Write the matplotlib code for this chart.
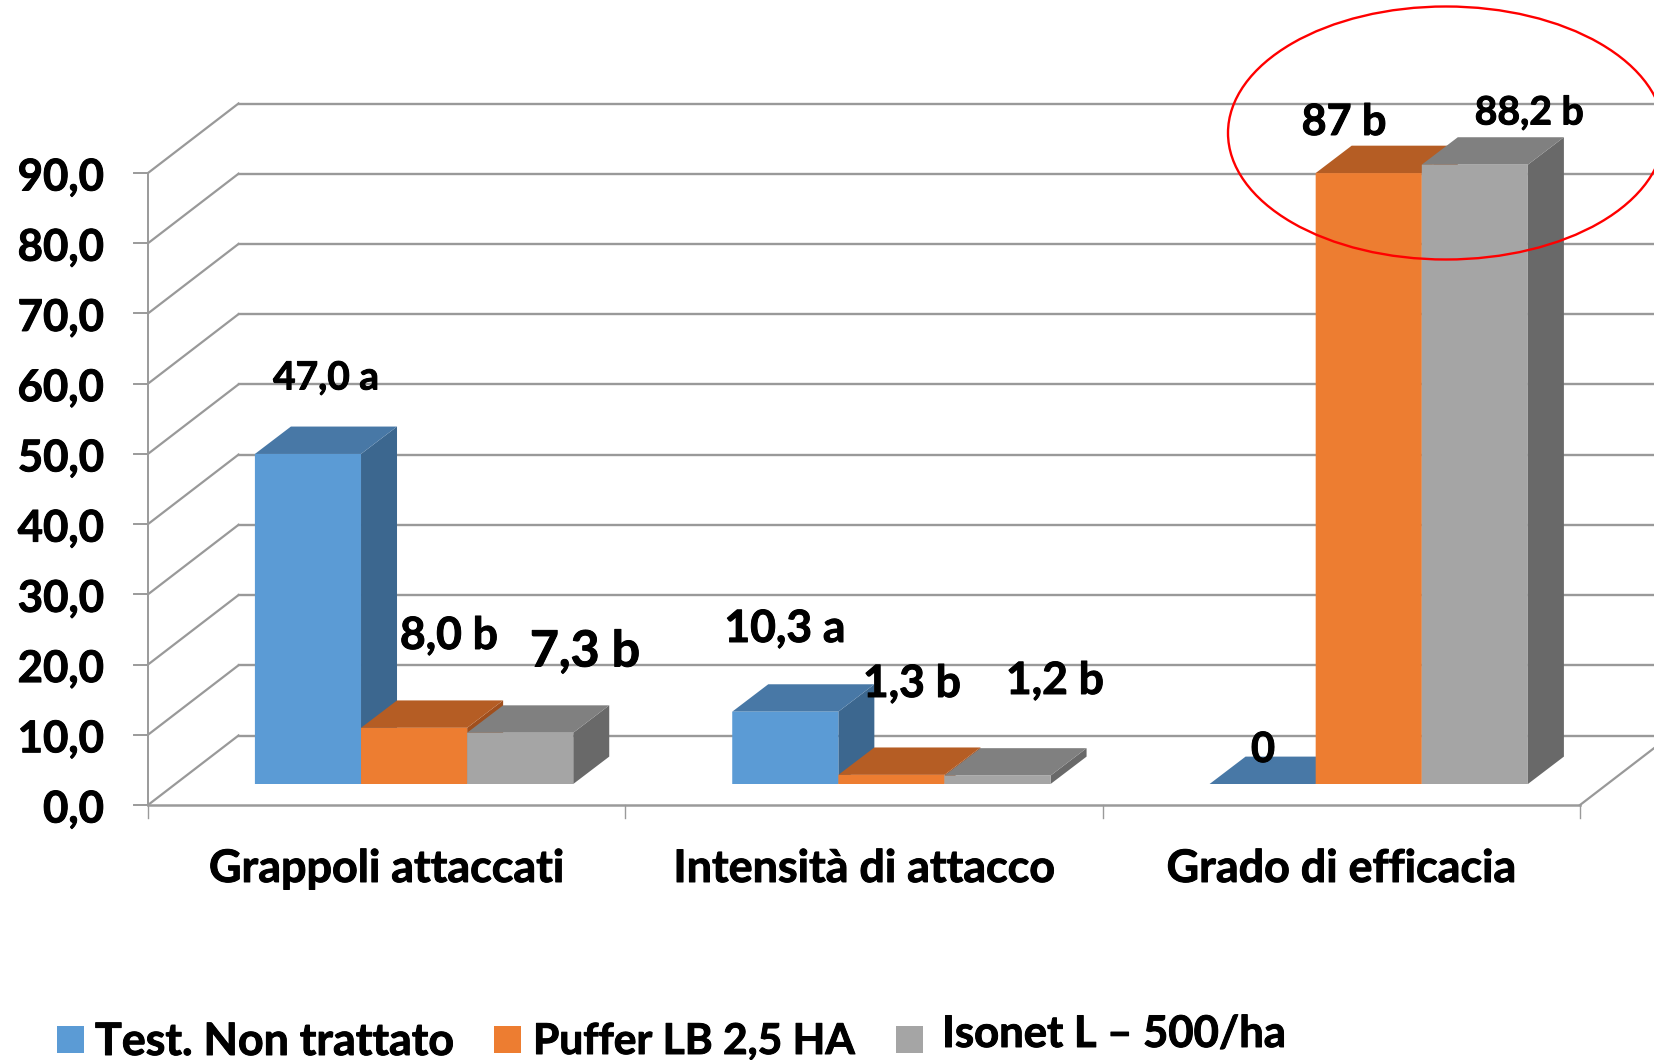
import matplotlib
matplotlib.use("Agg")
import matplotlib.pyplot as plt
import matplotlib.patheffects as pe
from matplotlib.patches import Polygon, Ellipse, Rectangle

plt.rcParams['font.family'] = ['Lato', 'DejaVu Sans']

categories = ["Grappoli attaccati", "Intensità di attacco", "Grado di efficacia"]
series_names = ["Test. Non trattato", "Puffer LB 2,5 HA", "Isonet L – 500/ha"]
test_values = [47.0, 10.3, 0.0]
puffer_values = [8.0, 1.3, 87.0]
isonet_values = [7.3, 1.2, 88.2]
y_ticks = [0, 10, 20, 30, 40, 50, 60, 70, 80, 90]
y_tick_labels = ["0,0", "10,0", "20,0", "30,0", "40,0", "50,0", "60,0", "70,0", "80,0", "90,0"]
test_labels = ["47,0 a", "10,3 a", "0"]
puffer_labels = ["8,0 b", "1,3 b", "87 b"]
isonet_labels = ["7,3 b", "1,2 b", "88,2 b"]

W, H = 1654, 1060
fig = plt.figure(figsize=(W / 100, H / 100), dpi=100, facecolor="white")
# front plane of the 3D box
L, R, T, B = 148, 1580, 173, 805
ax = fig.add_axes([L / W, 1 - B / H, (R - L) / W, (B - T) / H])
ax.set_xlim(0, 3)
ax.set_ylim(0, 90)
ax.axis("off")

px = 3 / (R - L)
py = 90 / (B - T)
depth_x, depth_y = 90.5 * px, 69.5 * py  # depth of whole box
bar_dx, bar_dy = 36 * px, 27.4 * py      # depth of a bar
off_x, off_y = 27 * px, 21 * py          # bar front plane offset
bar_w = 0.2223
gap = 0.1674

bold = [pe.withStroke(linewidth=0.7, foreground="black")]


def label(x, y, s, fs, **kw):
    ax.text(x, y, s, fontsize=fs, fontweight="bold", color="black", clip_on=False,
            path_effects=bold, **kw)


grid_c = "#999999"
axis_c = "#9a9a9a"
for v, lab in zip(y_ticks, y_tick_labels):
    ax.plot([0, depth_x], [v, v + depth_y], color=grid_c, lw=1.6, clip_on=False, zorder=1)
    ax.plot([depth_x, 3 + depth_x], [v + depth_y, v + depth_y], color=grid_c, lw=1.7, clip_on=False, zorder=1)
    ax.plot([-14 * px, 0], [v, v], color=axis_c, lw=1.4, clip_on=False, zorder=1)
    label(-44 * px, v - 4.5 * py, lab, 31.5, ha="right", va="center")
ax.plot([0, 0], [0, 90], color=axis_c, lw=1.4, clip_on=False, zorder=1)
ax.plot([0, 3], [0, 0], color=axis_c, lw=1.8, clip_on=False, zorder=1)
ax.plot([3, 3 + depth_x], [0, depth_y], color=grid_c, lw=1.6, clip_on=False, zorder=1)
for i in range(4):
    ax.plot([i, i], [0, -13 * py], color=axis_c, lw=1.0, clip_on=False, zorder=1)
for i, c in enumerate(categories):
    label(i + 0.5, -64 * py, c, 32.3, ha="center", va="center")

front = ["#5b9bd5", "#ed7d31", "#a5a5a5"]
top = ["#4878a6", "#b55d24", "#808080"]
side = ["#3c678f", "#a04f1d", "#696969"]
all_vals = [test_values, puffer_values, isonet_values]
for s, vals in enumerate(all_vals):
    for g, v in enumerate(vals):
        x0 = g + gap + s * bar_w + off_x
        x1 = x0 + bar_w
        y0 = off_y
        y1 = off_y + v
        if v > 0:
            ax.add_patch(Polygon([(x1, y0), (x1 + bar_dx, y0 + bar_dy), (x1 + bar_dx, y1 + bar_dy), (x1, y1)],
                                 fc=side[s], ec="none", zorder=3 + g * 3 + s * 0.1, clip_on=False, snap=False))
            ax.add_patch(Rectangle((x0, y0), bar_w, v, fc=front[s], ec="none",
                                   zorder=3.05 + g * 3 + s * 0.1, clip_on=False, snap=False))
        ax.add_patch(Polygon([(x0, y1), (x1, y1), (x1 + bar_dx, y1 + bar_dy), (x0 + bar_dx, y1 + bar_dy)],
                             fc=top[s], ec="none", zorder=3.02 + g * 3 + s * 0.1, clip_on=False, snap=False))

# value labels placed by hand, in figure pixels: centre x, centre y, font size
lab_texts = [test_labels, puffer_labels, isonet_labels]
label_px = {(0, 0): (326, 378, 28), (0, 1): (785, 629, 32), (0, 2): (1263, 750, 30),
            (1, 0): (449, 636, 32), (1, 1): (912, 684, 32), (1, 2): (1344, 122, 31),
            (2, 0): (585, 652, 36), (2, 1): (1055, 681, 32), (2, 2): (1529, 113, 28.2)}
for s in range(3):
    for g in range(3):
        xp, yp, fs = label_px[(s, g)]
        ax.text((xp - L) * px, (B - yp) * py, lab_texts[s][g], ha="center", va="center",
                fontsize=fs, fontweight="bold", color="black", zorder=20, clip_on=False,
                path_effects=bold)

# highlight ellipse, clipped by the figure edge
ax.add_patch(Ellipse(((1446 - L) * px, (B - 133) * py), 436 * px, 253 * py, fc="none", ec="#ff0000",
                     lw=1.7, zorder=25, clip_on=False))

# legend
leg_sq = [(57, 1026), (494, 1026), (896, 1026)]
leg_txt = [(95, 1042), (533, 1042), (942, 1034)]
leg_fs = [32.2, 30.6, 31.4]
for (x, y), (tx, ty), name, c, fs in zip(leg_sq, leg_txt, series_names, front, leg_fs):
    ax.add_patch(Rectangle(((x - L) * px, (B - y - 27) * py), 27 * px, 27 * py, fc=c, ec="none", clip_on=False))
    label((tx - L) * px, (B - ty) * py, name, fs, ha="left", va="center")

fig.savefig("out.png", dpi=100, facecolor="white")
